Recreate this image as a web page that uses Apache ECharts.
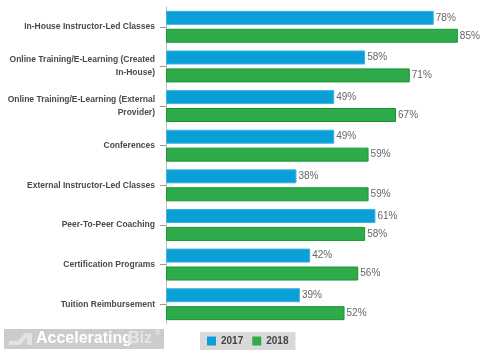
<!DOCTYPE html>
<html><head><meta charset="utf-8">
<script src="https://cdn.jsdelivr.net/npm/echarts@6/dist/echarts.min.js"></script>
<style>html,body{margin:0;padding:0;background:#fff}#c{width:500px;height:357px}</style>
</head><body><div id="c"></div>
<script>
const categories = [
  "In-House Instructor-Led Classes",
  "Online Training/E-Learning (Created\nIn-House)",
  "Online Training/E-Learning (External\nProvider)",
  "Conferences",
  "External Instructor-Led Classes",
  "Peer-To-Peer Coaching",
  "Certification Programs",
  "Tuition Reimbursement"
];
const values2017 = [78, 58, 49, 49, 38, 61, 42, 39];
const values2018 = [85, 71, 67, 59, 59, 58, 56, 52];
const seriesNames = ["2017", "2018"];

const chart = echarts.init(document.getElementById('c'), null, {renderer: 'canvas'});
const labelStyle = {show: true, position: 'right', formatter: '{c}%', color: '#666', fontSize: 10, fontFamily: 'Liberation Sans, Arial', distance: 2};
chart.setOption({
  animation: false,
  grid: {left: 166, top: 7, width: 309, height: 317, containLabel: false, outerBoundsMode: 'none'},
  xAxis: {type: 'value', min: 0, max: 90, show: false},
  yAxis: {
    type: 'category', data: categories, inverse: true,
    axisLine: {show: true, lineStyle: {color: '#bbb', width: 1}},
    axisTick: {show: true, alignWithLabel: true, length: 6, lineStyle: {color: '#999'}},
    axisLabel: {color: '#4a4a4a', fontSize: 8.5, fontWeight: 'bold', fontFamily: 'Liberation Sans, Arial', margin: 11, align: 'right', lineHeight: 13}
  },
  legend: {
    data: seriesNames, left: 200, top: 332, width: 99, height: 17,
    backgroundColor: '#d9d9d9', padding: [4, 7, 4, 7], itemWidth: 9, itemHeight: 9, itemGap: 9,
    icon: 'rect', itemStyle: {borderWidth: 0},
    textStyle: {color: '#444', fontSize: 10, fontWeight: 'bold', fontFamily: 'Liberation Sans, Arial'}
  },
  graphic: [
    {type: 'rect', left: 4, top: 329, shape: {width: 160, height: 20}, style: {fill: '#cccccc'}, silent: true},
    {type: 'polygon', shape: {points: [[9,345],[20,345],[27,337],[27,345],[32,345],[32,333],[25,333],[18,341],[9,341]]}, style: {fill: '#e3e3e3'}, silent: true},
    {type: 'text', left: 36, top: 331, style: {text: 'Accelerating', fill: '#ffffff', font: 'bold 16px Liberation Sans, Arial'}, silent: true},
    {type: 'text', left: 128, top: 331, style: {text: 'Biz', fill: '#e6e6e6', font: 'bold 16px Liberation Sans, Arial'}, silent: true},
    {type: 'text', left: 155, top: 330, style: {text: '®', fill: '#eeeeee', font: '7px Liberation Sans, Arial'}, silent: true}
  ],
  series: [
    {name: seriesNames[0], type: 'bar', data: values2017, barWidth: 14, barGap: '28%',
     itemStyle: {color: '#0aa0d7', borderColor: '#3db3e2', borderWidth: 1}, label: labelStyle},
    {name: seriesNames[1], type: 'bar', data: values2018, barWidth: 14, barGap: '28%',
     itemStyle: {color: '#2fab4b', borderColor: '#16962f', borderWidth: 1}, label: labelStyle}
  ]
});
</script></body></html>
